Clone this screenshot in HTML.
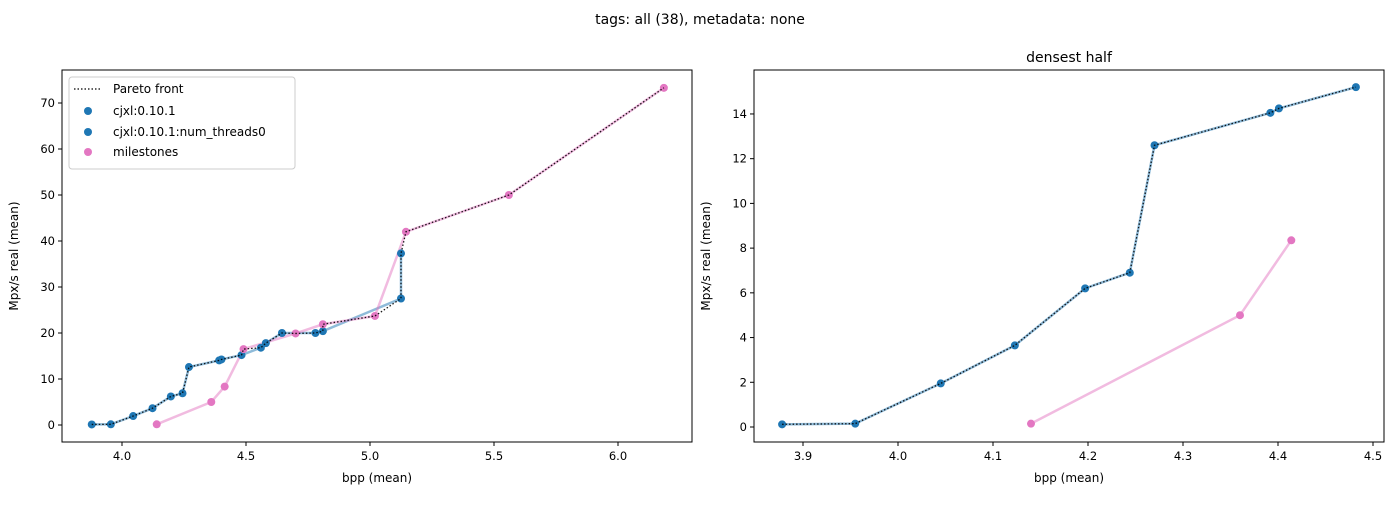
<!DOCTYPE html>
<html><head><meta charset="utf-8"><style>
body{margin:0;background:#fff;}
svg text{font-family:"DejaVu Sans","Liberation Sans",sans-serif;fill:#000;}
</style></head><body>
<svg id="s" width="1400" height="500" xmlns="http://www.w3.org/2000/svg"></svg>
<script>
const s=document.getElementById('s');let h='';
h+='<text x="700" y="24" font-size="14" text-anchor="middle">tags: all (38), metadata: none</text>';
const B='#1f77b4',P='#e377c2';
function panel(o){
 const X=v=>o.x0+(v-o.xv0)*o.xs, Y=v=>o.y0-(v-o.yv0)*o.ys;
 let g='';
 if(o.title) g+=`<text x="${(o.L+o.R)/2}" y="62" font-size="14" text-anchor="middle">${o.title}</text>`;
 o.xt.forEach(t=>{const x=X(t);g+=`<line x1="${x}" y1="442" x2="${x}" y2="446" stroke="#000"/><text x="${x}" y="460" font-size="11.5" text-anchor="middle">${t.toFixed(1)}</text>`;});
 o.yt.forEach(t=>{const y=Y(t);g+=`<line x1="${o.L-4}" y1="${y}" x2="${o.L}" y2="${y}" stroke="#000"/><text x="${o.L-7}" y="${y+4}" font-size="11.5" text-anchor="end">${t}</text>`;});
 g+=`<text x="${(o.L+o.R)/2}" y="482" font-size="12" text-anchor="middle">bpp (mean)</text>`;
 g+=`<text transform="translate(${o.L-44},256) rotate(-90)" font-size="12" text-anchor="middle">Mpx/s real (mean)</text>`;
 const pl=(pts,c,w,a,d)=>`<polyline points="${pts.map(p=>X(p[0])+','+Y(p[1])).join(' ')}" fill="none" stroke="${c}" stroke-width="${w}" stroke-opacity="${a}" ${d?'stroke-dasharray="1.5,2"':''}/>`;
 g+=pl(o.blue,B,2.5,0.5);g+=pl(o.pink,P,2.5,0.5);
 o.blue.forEach(p=>g+=`<circle cx="${X(p[0])}" cy="${Y(p[1])}" r="4" fill="${B}"/>`);
 o.pink.forEach(p=>g+=`<circle cx="${X(p[0])}" cy="${Y(p[1])}" r="4" fill="${P}"/>`);
 g+=pl(o.par,'#000',1.3,0.9,1);
 g+=`<rect x="${o.L}" y="70" width="${o.R-o.L}" height="372" fill="none" stroke="#000" stroke-width="1"/>`;
 return g;
}
const blueR=[[3.878,0.12],[3.955,0.15],[4.045,1.95],[4.123,3.65],[4.197,6.2],[4.244,6.9],[4.27,12.6],[4.392,14.05],[4.401,14.25],[4.482,15.2]];
const pinkR=[[4.14,0.15],[4.36,5.0],[4.414,8.35]];
const blueL=blueR.concat([[4.56,16.8],[4.58,17.8],[4.645,20],[4.78,20],[4.81,20.4],[5.125,27.5],[5.125,37.3]]);
const pinkL=pinkR.concat([[4.49,16.5],[4.70,19.9],[4.81,21.9],[5.02,23.7],[5.145,42],[5.56,50],[6.185,73.3]]);
const parL=blueR.concat([[4.49,16.5],[4.56,16.8],[4.58,17.8],[4.645,20],[4.70,19.9],[4.78,20],[4.81,20.4],[4.81,21.9],[5.02,23.7],[5.125,27.5],[5.125,37.3],[5.145,42],[5.56,50],[6.185,73.3]]);
h+=panel({L:62,R:692,x0:122,xv0:4.0,xs:248,y0:425,yv0:0,ys:4.6,xt:[4.0,4.5,5.0,5.5,6.0],yt:[0,10,20,30,40,50,60,70],blue:blueL,pink:pinkL,par:parL});
h+=panel({L:754,R:1384,x0:803,xv0:3.9,xs:950,y0:427,yv0:0,ys:22.36,xt:[3.9,4.0,4.1,4.2,4.3,4.4,4.5],yt:[0,2,4,6,8,10,12,14],blue:blueR,pink:pinkR,par:blueR,title:'densest half'});
// legend
h+='<rect x="69" y="77" width="226" height="92" rx="3" fill="#fff" fill-opacity="0.8" stroke="#ccc"/>';
h+='<line x1="74" y1="89" x2="102" y2="89" stroke="#000" stroke-width="1.3" stroke-dasharray="1.5,2"/><text x="113" y="93" font-size="12">Pareto front</text>';
[['cjxl:0.10.1',B,111],['cjxl:0.10.1:num_threads0',B,132],['milestones',P,152]].forEach(([t,c,y])=>{h+=`<circle cx="88" cy="${y}" r="4" fill="${c}"/><text x="113" y="${y+4}" font-size="12">${t}</text>`;});
s.innerHTML=h;
</script>
</body></html>
